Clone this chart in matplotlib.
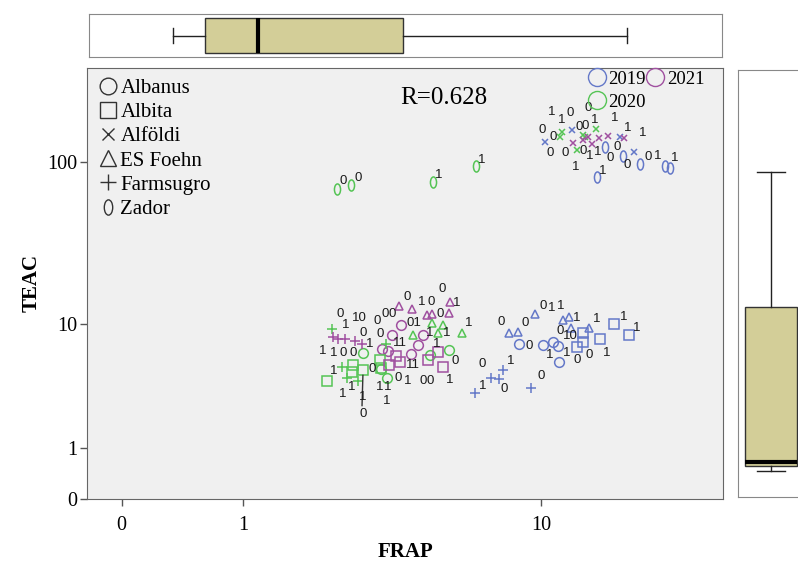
import numpy as np
import matplotlib.pyplot as plt
from matplotlib.path import Path
from matplotlib.transforms import Affine2D
from matplotlib.lines import Line2D

# ---- data (FRAP, TEAC per variety, year of each point) ----
albanus_frap = [3.93, 3.68, 4.60, 3.42, 3.58, 4.22, 4.44, 2.97, 5.49, 3.40, 3.55, 4.82, 8.69, 10.11, 10.76, 11.10, 11.17]
albanus_teac = [9.81, 8.42, 8.42, 6.87, 6.65, 6.26, 7.21, 6.45, 6.76, 4.98, 4.29, 6.16, 7.43, 7.32, 7.66, 7.10, 5.58]
albanus_year = [2021] * 7 + [2020] * 5 + [2019] * 5

albita_frap = [3.79, 3.90, 5.09, 5.27, 3.60, 4.76, 2.75, 2.73, 2.97, 3.37, 3.40, 2.23, 12.97, 12.97, 12.49, 14.39, 15.68, 17.17]
albita_teac = [6.06, 5.58, 6.55, 5.15, 5.24, 5.77, 5.24, 4.74, 4.88, 5.77, 5.07, 4.06, 8.68, 7.66, 6.99, 8.03, 9.96, 8.42]
albita_year = [2021] * 6 + [2020] * 6 + [2019] * 6

alfoldi_frap = [10.24, 12.12, 16.26, 17.7, 11.39, 11.24, 12.97, 13.12, 14.05, 12.49, 12.2, 12.97, 13.4, 13.7, 14.3, 15.1, 16.7]
alfoldi_teac = [132.6, 156.4, 142, 115.5, 151.8, 142, 146, 142, 158, 118.6, 130.8, 136.1, 142, 129, 140, 144, 140]
alfoldi_year = [2019] * 4 + [2020] * 6 + [2021] * 7

foehn_frap = [3.87, 4.25, 4.72, 4.88, 5.49, 5.53, 4.88, 5.27, 5.09, 4.28, 5.99, 9.6, 8.15, 8.63, 11.44, 11.9, 12.05, 13.46]
foehn_teac = [13.2, 12.45, 11.5, 11.7, 11.85, 14.0, 10.1, 9.8, 8.68, 8.42, 8.8, 11.7, 8.8, 8.9, 10.7, 11.2, 9.5, 9.5]
foehn_year = [2021] * 6 + [2020] * 5 + [2019] * 7

farm_frap = [2.33, 2.52, 2.63, 2.86, 3.52, 2.35, 2.44, 2.59, 2.80, 2.95, 7.84, 7.25, 7.64, 6.53, 9.37]
farm_teac = [9.36, 5.15, 4.29, 4.06, 7.43, 8.16, 8.03, 8.03, 7.77, 7.43, 4.88, 4.29, 4.21, 3.3, 3.6]
farm_year = [2020] * 5 + [2021] * 5 + [2019] * 5

zador_frap = [2.42, 2.71, 4.92, 6.58, 14.8, 16.6, 18.35, 14.1, 21.3, 22.0]
zador_teac = [69.0, 73.5, 75.9, 95.0, 124, 110, 97.8, 81.5, 95, 92.4]
zador_year = [2020] * 4 + [2019] * 6

# point labels (0/1)
label_frap = [5.23, 4.10, 4.56, 4.85, 5.80, 2.48, 2.90, 3.30, 3.50, 3.68, 5.16, 6.28, 4.32, 2.59, 2.97,
              3.37, 4.82, 5.42, 3.13, 3.90, 5.06, 2.16, 2.35, 2.54, 2.75, 3.18, 4.28, 5.72, 2.35, 3.85,
              4.13, 4.60, 4.82, 5.53, 2.54, 2.73, 3.37, 3.58, 2.97, 3.55, 2.97,
              7.74, 9.02, 10.11, 10.7, 11.31, 12.49, 14.1, 16.6, 18.0, 11.24, 11.97, 9.25, 10.56, 11.75,
              12.49, 13.46, 15.0, 6.84, 8.25, 9.98, 6.88, 7.9,
              10.7, 11.97, 13.4, 11.39, 12.65, 13.12, 13.96, 15.77, 10.05, 10.76, 17.07, 18.6, 10.56,
              11.6, 12.97, 13.54, 14.2, 15.3, 16.0, 17.0, 19.3, 20.4, 22.6, 12.4, 14.6,
              2.54, 2.86, 5.13, 6.84]
label_teac = [16.9, 14.9, 14.0, 14.0, 13.8, 11.7, 11.0, 10.55, 11.7, 11.7, 11.7, 10.1, 10.1, 9.8, 8.8,
              8.55, 8.7, 8.7, 7.43, 7.55, 7.43, 6.65, 6.45, 6.45, 6.45, 4.98, 5.24, 5.67, 4.81, 4.29,
              4.06, 4.06, 4.06, 4.13, 3.24, 3.64, 3.64, 3.64, 3.05, 2.85, 2.2,
              10.4, 10.25, 13.2, 12.8, 13.2, 11.0, 10.85, 11.2, 9.5, 9.07, 8.3, 7.1, 6.16, 6.45,
              5.77, 6.16, 6.45, 5.33, 5.67, 4.37, 3.74, 3.5,
              200, 198, 212, 179.6, 163, 165, 179.6, 185, 156.4, 142, 161, 150, 113.5,
              113.5, 117, 110, 115.5, 107, 124, 96.5, 108.6, 110, 105.8, 93.6, 88.5,
              77.2, 80.5, 84, 103]
label_text = ["0", "0", "1", "0", "1", "0", "10", "0", "0", "0", "0", "1", "01", "1", "0",
              "0", "1", "1", "1", "11", "1", "1", "1", "0", "0", "0", "11", "0", "1", "0",
              "1", "0", "0", "1", "1", "1", "1", "1", "1", "1", "0",
              "0", "0", "0", "1", "1", "1", "1", "1", "1", "0", "10", "0", "1", "1",
              "0", "0", "1", "0", "1", "0", "1", "0",
              "1", "0", "0", "1", "0", "0", "1", "1", "0", "0", "1", "1", "0",
              "0", "0", "1", "1", "0", "0", "0", "0", "1", "1", "1", "1",
              "0", "0", "1", "1"]

leader_frap = [2.97, 2.95]
leader_teac = [4.45, 2.6]

# marginal box plot summaries
frap_box = dict(whislo=0.34, q1=0.61, med=1.18, q3=4.0, whishi=16.9, fliers=[])
teac_box = dict(whislo=0.45, q1=0.55, med=0.64, q3=12.8, whishi=87.3, fliers=[])

r_text = "R=0.628"

year_colors = {2019: '#6478C8', 2020: '#55C455', 2021: '#A050A0'}
serif = 'Liberation Serif'

zador_marker = Path.unit_circle().transformed(Affine2D().scale(0.55, 1.0))


def fwd(v):
    return np.log10(np.clip(np.asarray(v, dtype=float) + 1, 1e-9, None))


def inv(u):
    return 10 ** np.asarray(u, dtype=float) - 1


fig = plt.figure(figsize=(7.98, 5.69), dpi=100)
W, H = 798, 569
ax = fig.add_axes([87 / W, 1 - 499 / H, 636 / W, 431 / H])
ax_top = fig.add_axes([89 / W, 1 - 57 / H, 633 / W, 43 / H])
ax_right = fig.add_axes([738 / W, 1 - 497 / H, 80 / W, 427 / H])

ax.set_facecolor('#F0F0F0')
ax.set_xscale('function', functions=(fwd, inv))
ax.set_yscale('function', functions=(fwd, inv))
ax.set_xlim(-0.18, 30.1)
ax.set_ylim(0, 368)

groups = [
    (albanus_frap, albanus_teac, albanus_year, 'o', 7),
    (albita_frap, albita_teac, albita_year, 's', 7),
    (alfoldi_frap, alfoldi_teac, alfoldi_year, 'x', 4.8),
    (foehn_frap, foehn_teac, foehn_year, '^', 6),
    (farm_frap, farm_teac, farm_year, '+', 7),
    (zador_frap, zador_teac, zador_year, zador_marker, 8),
]
for fx, ty, yr, mk, ms in groups:
    fx, ty, yr = np.array(fx), np.array(ty), np.array(yr)
    for y in (2019, 2020, 2021):
        sel = yr == y
        if sel.any():
            ax.plot(fx[sel], ty[sel], ls='none', marker=mk, ms=ms, mfc='none',
                    mec=year_colors[y], mew=1.1)

for x, y, t in zip(label_frap, label_teac, label_text):
    ax.text(x, y, t, fontsize=9.5, family='Liberation Sans', color='#1a1a1a',
            ha='center', va='center')
ax.plot(leader_frap, leader_teac, color='#333333', lw=1)

ax.set_xticks([0, 1, 10])
ax.set_xticklabels(['0', '1', '10'], family=serif)
ax.set_yticks([0, 1, 10, 100])
ax.set_yticklabels(['0', '1', '10', '100'], family=serif)
ax.minorticks_off()
ax.tick_params(axis='both', direction='out', length=5, width=1, color='#555555',
               labelsize=14.5)
ax.tick_params(axis='x', pad=7)
ax.tick_params(axis='y', pad=2)
for s in ax.spines.values():
    s.set_color('#666666')
ax.set_xlabel('FRAP', fontsize=15, fontweight='bold', family=serif, labelpad=5)
ax.set_ylabel('TEAC', fontsize=15, fontweight='bold', family=serif, labelpad=4)

ax.text(0.561, 0.930, r_text, transform=ax.transAxes, fontsize=18, family=serif,
        ha='center', va='center')

# variety legend
names = ['Albanus', 'Albita', 'Alföldi', 'ES Foehn', 'Farmsugro', 'Zador']
shapes = [('o', 12), ('s', 12), ('x', 8.5), ('^', 11), ('+', 12), (zador_marker, 11)]
handles = [Line2D([], [], ls='none', marker=m, ms=s, mfc='none', mec='#333333', mew=1)
           for m, s in shapes]
leg1 = ax.legend(handles, names, loc='upper left', bbox_to_anchor=(0.0, 1.0), frameon=False,
                 prop={'family': serif, 'size': 15}, handlelength=1.0, handletextpad=0.1,
                 labelspacing=0.22, borderaxespad=0.3, borderpad=0.2)
ax.add_artist(leg1)

year_handles = [Line2D([], [], ls='none', marker='o', ms=13, mfc='none', mec=year_colors[y], mew=1)
                for y in (2019, 2020, 2021)]
ax.legend(year_handles, ['2019', '2020', '2021'], ncol=2, loc='upper right',
          bbox_to_anchor=(1 - 16 / 636, 1.0), frameon=False, prop={'family': serif, 'size': 13.5},
          handlelength=1.0, handletextpad=0.1, columnspacing=0.0, labelspacing=0.3,
          borderaxespad=0.0, borderpad=0.15)

# marginal boxes
boxkw = dict(patch_artist=True, showfliers=False,
             boxprops=dict(facecolor='#D3CE98', edgecolor='#333333', lw=1),
             medianprops=dict(color='black', lw=3),
             whiskerprops=dict(color='#222222', lw=1),
             capprops=dict(color='#222222', lw=1))

ax_top.set_xscale('function', functions=(fwd, inv))
ax_top.set_xlim(-0.172, 29.9)
ax_top.bxp([frap_box], positions=[0], widths=0.81, capwidths=0.37, orientation='horizontal', **boxkw)
ax_top.set_ylim(-0.5, 0.5)

ax_right.set_yscale('function', functions=(fwd, inv))
ax_right.bxp([teac_box], positions=[0.4125], widths=0.65, capwidths=0.34, **boxkw)
ax_right.set_xlim(0, 1)
ax_right.set_ylim(0.014, 358)

for a in (ax_top, ax_right):
    a.set_xticks([])
    a.set_yticks([])
    a.minorticks_off()
    a.set_facecolor('white')
    for s in a.spines.values():
        s.set_color('#888888')

fig.savefig('out.png', dpi=100)
